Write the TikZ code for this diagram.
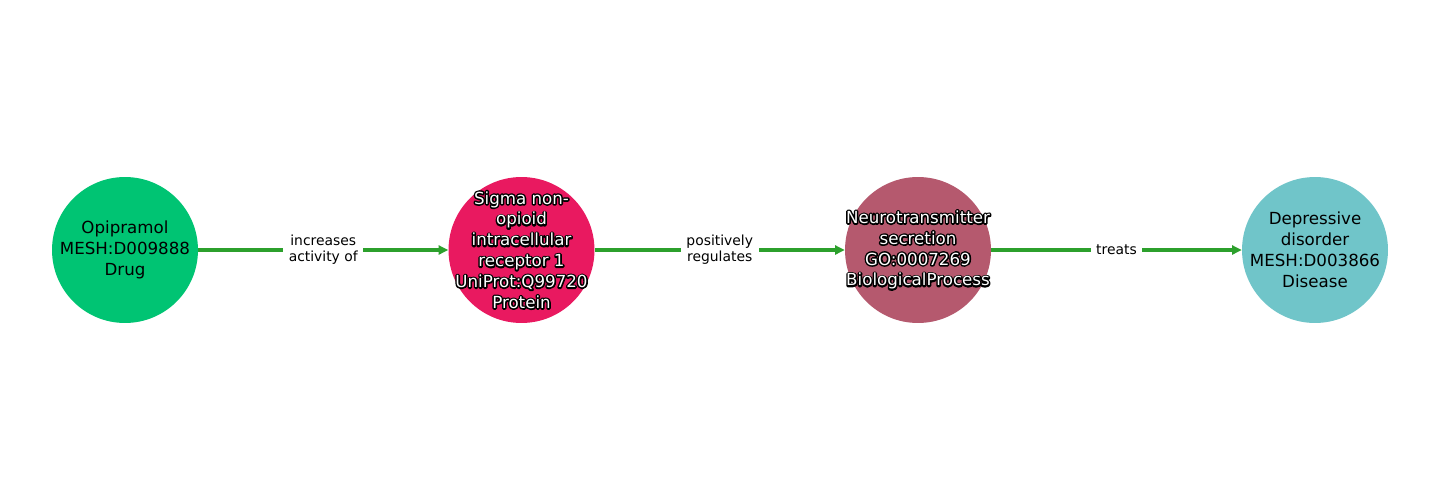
\documentclass[tikz,border=0pt]{standalone}
\usepackage{fontspec}
\setmainfont{DejaVu Sans}
\usetikzlibrary{arrows.meta}
\definecolor{cDrug}{RGB}{0,196,115}
\definecolor{cProt}{RGB}{233,25,96}
\definecolor{cProc}{RGB}{181,89,110}
\definecolor{cDis}{RGB}{112,197,201}
\definecolor{cEdge}{RGB}{44,160,44}
\tikzset{
  ent/.style={circle,minimum size=105.1pt,inner sep=0pt,draw=none},
  ntxt/.style={font=\fontsize{12}{15}\selectfont,align=center,inner sep=0pt},
  edge/.style={draw=cEdge,line width=2.2pt,-{Triangle[length=7pt,width=6.5pt]}},
  elbl/.style={font=\fontsize{10}{11.6}\selectfont,align=center,fill=white,inner xsep=4pt,inner ysep=2pt},
}
\newcommand{\strokeon}{\special{pdf:code q 1 Tr 2.2 w 0 0 0 RG 1 J 1 j}}
\newcommand{\strokeoff}{\special{pdf:code Q}}
\newcommand{\halotext}[2]{%
  \node[ntxt,text=black] (#1h) at (#1.center) {\strokeon #2\strokeoff};
  \node[ntxt,text=white] (#1t) at (#1.center) {#2};
}
\begin{document}
\begin{tikzpicture}[x=0.72pt,y=-0.72pt]
\useasboundingbox[fill=white] (0,0) rectangle (1440,500);
\node[ent,fill=cDrug] (n1) at (125,250) {};
\node[ent,fill=cProt] (n2) at (521.5,250) {};
\node[ent,fill=cProc] (n3) at (918,250) {};
\node[ent,fill=cDis] (n4) at (1315,250) {};
\node[ntxt] (n1t) at (n1.center) {Opipramol\\MESH:D009888\\Drug};
\halotext{n2}{Sigma non-\\opioid\\intracellular\\receptor 1\\UniProt:Q99720\\Protein}
\halotext{n3}{Neurotransmitter\\secretion\\GO:0007269\\BiologicalProcess}
\node[ntxt] (n4t) at (n4.center) {Depressive\\disorder\\MESH:D003866\\Disease};
\draw[edge] (n1) -- node[elbl] (e1) {increases\\activity of} (n2);
\draw[edge] (n2) -- node[elbl] (e2) {positively\\regulates} (n3);
\draw[edge] (n3) -- node[elbl] (e3) {treats} (n4);
\end{tikzpicture}
\end{document}
